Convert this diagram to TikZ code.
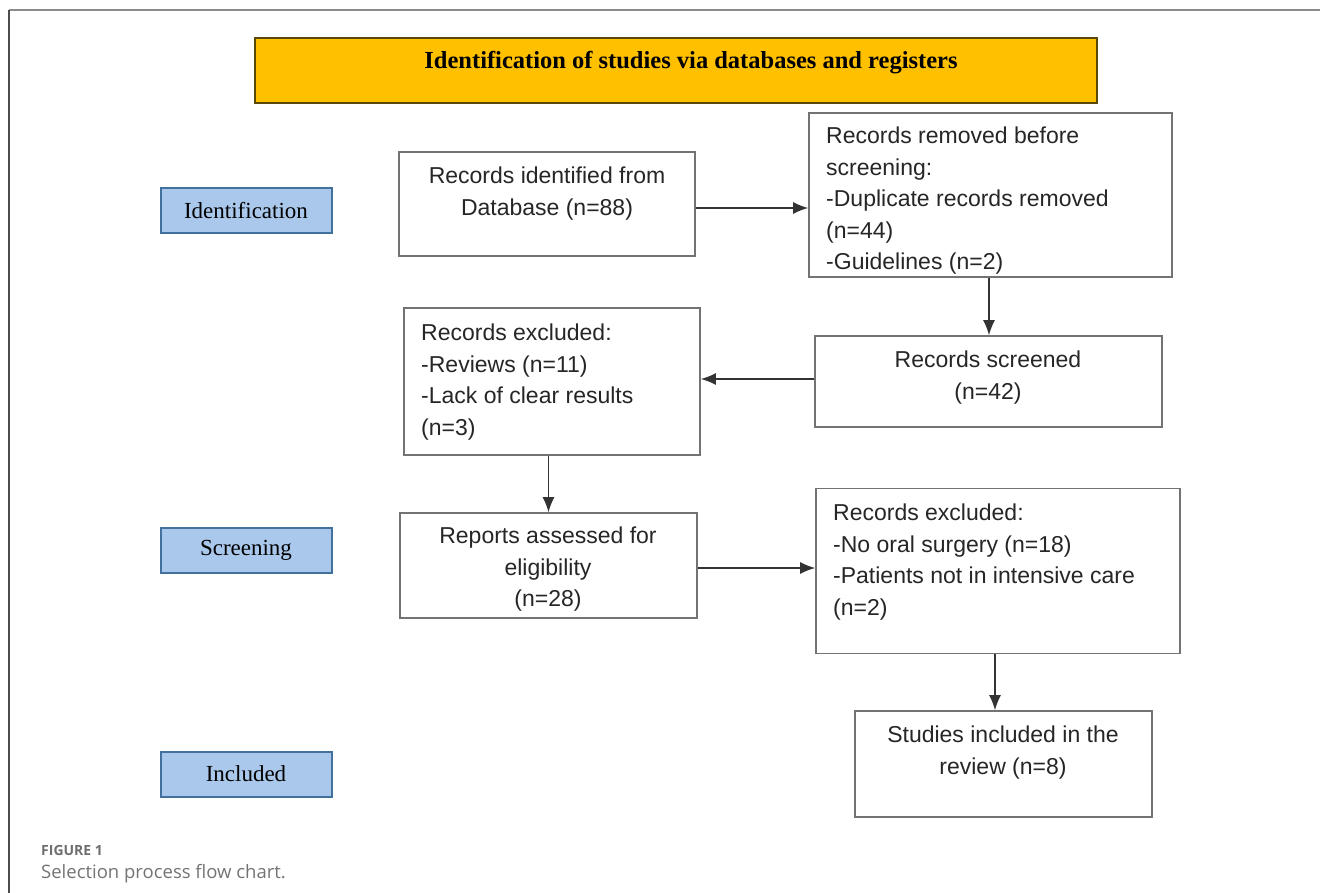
\documentclass[tikz,border=0pt]{standalone}
\usepackage{fontspec}
\setmainfont{Liberation Sans}
\newfontfamily\timesfont{Liberation Serif}
\newfontfamily\capfont{Open Sans}
\usetikzlibrary{arrows.meta, positioning}

\definecolor{headfill}{RGB}{255,192,0}
\definecolor{headline}{RGB}{90,72,10}
\definecolor{stagefill}{RGB}{169,200,235}
\definecolor{stageline}{RGB}{65,113,156}
\definecolor{boxline}{RGB}{115,115,115}
\definecolor{capgray}{RGB}{110,110,110}

\begin{document}
\begin{tikzpicture}[x=1pt, y=-1pt,
    box/.style={draw=boxline, line width=1.6pt, fill=white, inner sep=0pt},
    txt/.style={font=\fontsize{23}{31.5}\selectfont, text=black!85, inner sep=0pt, anchor=north},
    stage/.style={draw=stageline, line width=2pt, fill=stagefill, minimum width=171pt,
        minimum height=45pt, font=\timesfont\fontsize{23}{27}\selectfont},
    flow/.style={-{Latex[length=15pt,width=12pt]}, line width=1.4pt, draw=black!80}]
    % page frame and margins
    \useasboundingbox (0,0) rectangle (1320,893);
    \draw[black!45, line width=1.5pt] (9,10) -- (1320,10);
    \draw[black!70, line width=1.5pt] (9,10) -- (9,893);

    \node[draw=headline, line width=2.5pt, fill=headfill, minimum width=842pt, minimum height=65pt] (head) at (676,70.5) {};
    \node[font=\timesfont\bfseries\fontsize{24.5}{29}\selectfont, inner sep=0pt] (headtxt) at (691,63) {Identification of studies via databases and registers};

    \node[stage] (sident) at (246,210.5) {Identification};
    \node[stage] (sscreen) at (246,550) {Screening};
    \node[stage] (sincl) at (246,774) {Included};

    \node[box, minimum width=296pt, minimum height=104pt] (ident) at (547,204) {};
    \node[txt, align=center] (identtxt) at (547,167) {Records identified from\\Database (n=88)};

    \node[box, minimum width=363pt, minimum height=164pt] (removed) at (990.5,195) {};
    \node[txt, align=left, anchor=north west] (removedtxt) at (826,127) {Records removed before\\screening:\\-Duplicate records removed\\(n=44)\\-Guidelines (n=2)};

    \node[box, minimum width=347pt, minimum height=91pt] (screened) at (988.5,381.5) {};
    \node[txt, align=center] (screenedtxt) at (988,351) {Records screened\\(n=42)};

    \node[box, minimum width=296pt, minimum height=147pt] (excla) at (552,381.5) {};
    \node[txt, align=left, anchor=north west] (exclatxt) at (421,324) {Records excluded:\\-Reviews (n=11)\\-Lack of clear results\\(n=3)};

    \node[box, minimum width=297pt, minimum height=105pt] (reports) at (548.5,565.5) {};
    \node[txt, align=center] (reportstxt) at (548,527) {Reports assessed for\\eligibility\\(n=28)};

    \node[box, minimum width=364pt, minimum height=165pt] (exclb) at (998,571) {};
    \node[txt, align=left, anchor=north west] (exclbtxt) at (833,504) {Records excluded:\\-No oral surgery (n=18)\\-Patients not in intensive care\\(n=2)};

    \node[box, minimum width=297pt, minimum height=106pt] (studies) at (1003.5,764) {};
    \node[txt, align=center] (studiestxt) at (1003,726) {Studies included in the\\review (n=8)};

    \draw[flow] ([yshift=-4pt]ident.east) -- ([yshift=-4pt]ident.east -| removed.west);
    \draw[flow] ([xshift=-1.5pt]removed.south) -- ([xshift=-1.5pt]removed.south |- screened.north);
    \draw[flow] ([yshift=2.5pt]screened.west) -- ([yshift=2.5pt]screened.west -| excla.east);
    \draw[flow] (excla.south -| reports.north) -- (reports.north);
    \draw[flow] ([yshift=-2.5pt]reports.east) -- ([yshift=-2.5pt]reports.east -| exclb.west);
    \draw[flow] ([xshift=-3pt]exclb.south) -- ([xshift=-3pt]exclb.south |- studies.north);

    \node[font=\capfont\bfseries\fontsize{14}{17}\selectfont, text=capgray, anchor=base west, inner sep=0pt] (figno) at (41,855) {FIGURE 1};
    \node[font=\capfont\fontsize{18.5}{22}\selectfont, text=black!55, anchor=base west, inner sep=0pt] (figcap) at (41,878) {Selection process flow chart.};
\end{tikzpicture}
\end{document}
